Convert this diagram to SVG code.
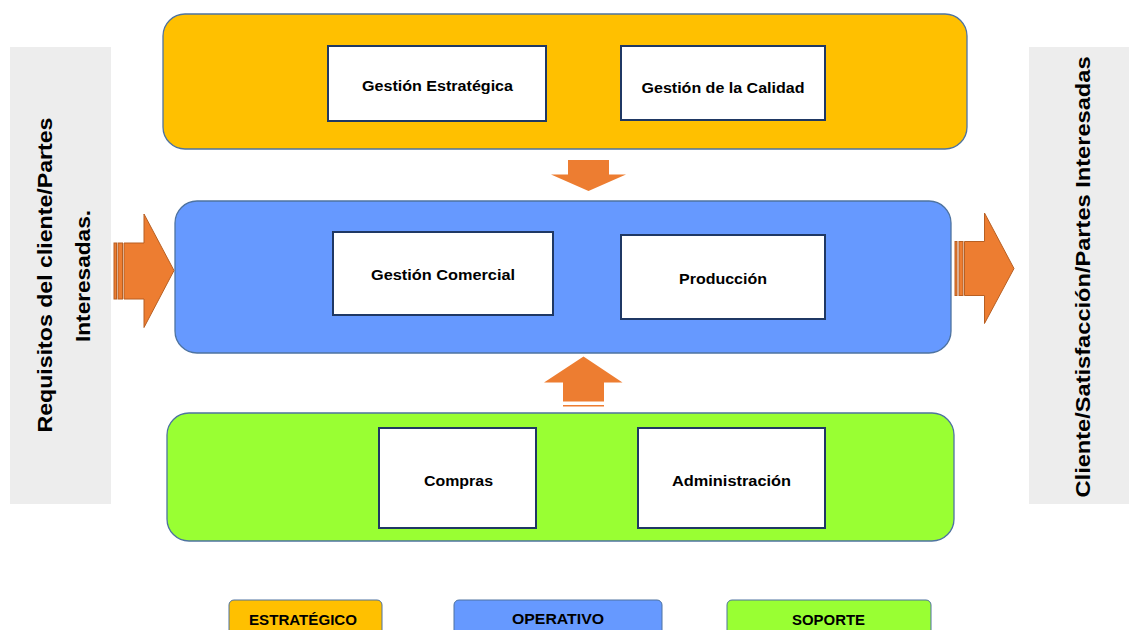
<svg xmlns="http://www.w3.org/2000/svg" width="1129" height="630" viewBox="0 0 1129 630">
  <style>
    .band { stroke: #4E73A0; stroke-width: 1.3; }
    .node { fill: #FFFFFF; stroke: #1F3864; stroke-width: 2; }
    .side { fill: #EDEDED; }
    .arrow { fill: #ED7D31; stroke: #B85F22; stroke-width: 1; }
    .lbl { font-family: "Liberation Sans", Arial, sans-serif; font-weight: bold; font-size: 14px; fill: #000; text-anchor: middle; }
    .big { font-family: "Liberation Sans", Arial, sans-serif; font-weight: bold; font-size: 20px; fill: #000; text-anchor: middle; }
    .leg { stroke: #4E73A0; stroke-width: 1; }
  </style>
  <rect width="1129" height="630" fill="#FFFFFF"/>

  <!-- side panels -->
  <g id="inputs">
    <rect class="side" x="10" y="47" width="101" height="457"/>
    <text class="big" transform="translate(52,275) rotate(-90)" textLength="315" lengthAdjust="spacingAndGlyphs">Requisitos del cliente/Partes</text>
    <text class="big" transform="translate(90,276) rotate(-90)" textLength="132" lengthAdjust="spacingAndGlyphs">Interesadas.</text>
  </g>
  <g id="outputs">
    <rect class="side" x="1029" y="47" width="100" height="457"/>
    <text class="big" transform="translate(1090,277) rotate(-90)" textLength="441" lengthAdjust="spacingAndGlyphs">Cliente/Satisfacción/Partes Interesadas</text>
  </g>

  <!-- process bands -->
  <g id="band-estrategico">
    <rect class="band" x="163" y="14" width="804" height="135" rx="22" fill="#FFC000"/>
  </g>
  <g id="band-operativo">
    <rect class="band" x="175" y="201" width="776" height="152" rx="22" fill="#6699FF"/>
  </g>
  <g id="band-soporte">
    <rect class="band" x="167" y="413" width="787" height="128" rx="22" fill="#99FF33"/>
  </g>

  <!-- processes -->
  <g id="gestion-estrategica">
    <rect class="node" x="328" y="46" width="218" height="75"/>
    <text class="lbl" x="437.5" y="91" textLength="151" lengthAdjust="spacingAndGlyphs">Gestión Estratégica</text>
  </g>
  <g id="gestion-calidad">
    <rect class="node" x="621" y="46" width="204" height="74"/>
    <text class="lbl" x="723" y="93" textLength="163" lengthAdjust="spacingAndGlyphs">Gestión de la Calidad</text>
  </g>
  <g id="gestion-comercial">
    <rect class="node" x="333" y="232" width="220" height="83"/>
    <text class="lbl" x="443" y="280" textLength="144" lengthAdjust="spacingAndGlyphs">Gestión Comercial</text>
  </g>
  <g id="produccion">
    <rect class="node" x="621" y="235" width="204" height="84"/>
    <text class="lbl" x="723" y="284" textLength="88" lengthAdjust="spacingAndGlyphs">Producción</text>
  </g>
  <g id="compras">
    <rect class="node" x="379" y="428" width="157" height="100"/>
    <text class="lbl" x="458.5" y="486" textLength="69" lengthAdjust="spacingAndGlyphs">Compras</text>
  </g>
  <g id="administracion">
    <rect class="node" x="638" y="428" width="187" height="100"/>
    <text class="lbl" x="731.5" y="486" textLength="119" lengthAdjust="spacingAndGlyphs">Administración</text>
  </g>

  <!-- block arrows -->
  <g id="connectors">
    <!-- input arrow -->
    <rect class="arrow" x="114" y="243" width="2.5" height="56"/>
    <rect class="arrow" x="118" y="243" width="4.5" height="56"/>
    <path class="arrow" d="M124,243 H144 V214 L174,270.5 L144,327.5 V299 H124 Z"/>
    <!-- output arrow -->
    <rect class="arrow" x="955" y="241.5" width="2" height="54"/>
    <rect class="arrow" x="959" y="241.5" width="4" height="54"/>
    <path class="arrow" d="M964.5,241.5 H984.5 V213 L1014,268.5 L984.5,323.5 V295.5 H964.5 Z"/>
    <!-- strategic to operational -->
    <path fill="#ED7D31" d="M568,160 H609 V174.5 H626 L588.5,191 L551,174.5 H568 Z"/>
    <!-- support to operational -->
    <path fill="#ED7D31" d="M583.5,356.5 L622.5,382.5 H604 V401.5 H563 V382.5 H544 Z"/>
    <rect x="563" y="405" width="41" height="1.5" fill="#ED7D31"/>
  </g>

  <!-- legend -->
  <g id="legend-estrategico">
    <rect class="leg" x="229" y="600" width="153" height="40" rx="5" fill="#FFC000"/>
    <text class="lbl" x="303" y="625" font-size="15" textLength="108" lengthAdjust="spacingAndGlyphs">ESTRATÉGICO</text>
  </g>
  <g id="legend-operativo">
    <rect class="leg" x="454" y="600" width="208" height="40" rx="5" fill="#6699FF"/>
    <text class="lbl" x="558" y="624" font-size="15" textLength="92" lengthAdjust="spacingAndGlyphs">OPERATIVO</text>
  </g>
  <g id="legend-soporte">
    <rect class="leg" x="727" y="600" width="204" height="40" rx="5" fill="#99FF33"/>
    <text class="lbl" x="828.5" y="625" font-size="15" textLength="73" lengthAdjust="spacingAndGlyphs">SOPORTE</text>
  </g>
</svg>
